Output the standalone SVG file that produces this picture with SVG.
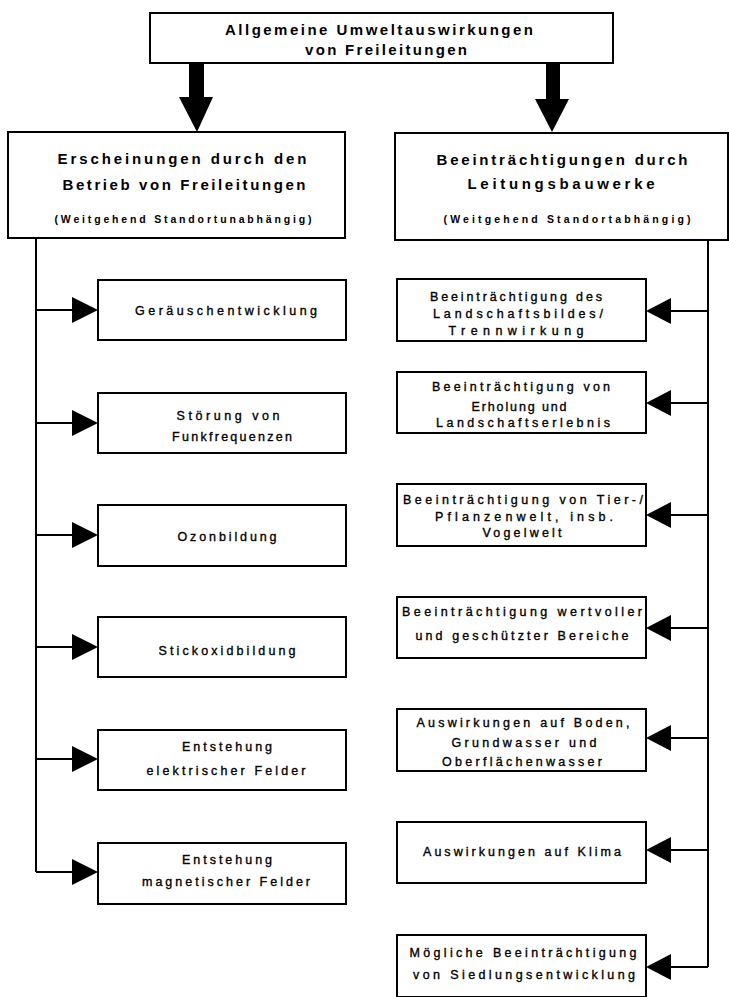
<svg xmlns="http://www.w3.org/2000/svg" width="729" height="997" viewBox="0 0 729 997">
<style>
.box{fill:#fff;stroke:#000;stroke-width:2}
.ln{fill:none;stroke:#000;stroke-width:2}
.hd{font-family:"Liberation Sans",Arial,sans-serif;font-weight:bold;font-size:15px;fill:#000;text-anchor:middle}
.sub{font-family:"Liberation Sans",Arial,sans-serif;font-weight:bold;font-size:10.5px;fill:#000;text-anchor:middle}
.tx{font-family:"Liberation Sans",Arial,sans-serif;font-size:12.5px;fill:#000;stroke:#000;stroke-width:0.35;text-anchor:middle}
</style>
<rect width="729" height="997" fill="#fff"/>
<g id="top">
<rect class="box" x="150" y="13" width="463" height="50"/>
<text class="hd" x="379" y="35" textLength="308" lengthAdjust="spacing">Allgemeine Umweltauswirkungen</text>
<text class="hd" x="386" y="55" textLength="162" lengthAdjust="spacing">von Freileitungen</text>
</g>
<g id="left-head">
<rect class="box" x="8" y="132" width="337" height="106"/>
<text class="hd" x="182" y="164" textLength="249" lengthAdjust="spacing">Erscheinungen durch den</text>
<text class="hd" x="184" y="190" textLength="243" lengthAdjust="spacing">Betrieb von Freileitungen</text>
<text class="sub" x="183" y="223" textLength="257" lengthAdjust="spacing">(Weitgehend Standortunabhängig)</text>
</g>
<g id="right-head">
<rect class="box" x="395" y="133" width="333" height="107"/>
<text class="hd" x="562" y="165" textLength="251" lengthAdjust="spacing">Beeinträchtigungen durch</text>
<text class="hd" x="561" y="189" textLength="187" lengthAdjust="spacing">Leitungsbauwerke</text>
<text class="sub" x="567" y="223" textLength="247" lengthAdjust="spacing">(Weitgehend Standortabhängig)</text>
</g>
<g id="connectors">
<path d="M189,63 H204 V97 H213 L197,132 L179,97 H189 Z" fill="#000"/>
<path d="M546,63 H560 V99 H569 L552,132 L535,99 H546 Z" fill="#000"/>
<path class="ln" d="M36,238 V872"/>
<path class="ln" d="M36,310 H74 M36,423 H74 M36,535 H74 M36,647 H74 M36,759 H74 M36,872 H74"/>
<g fill="#000">
<polygon points="72,297 98,310 72,323"/>
<polygon points="72,410 98,423 72,436"/>
<polygon points="72,522 98,535 72,548"/>
<polygon points="72,634 98,647 72,660"/>
<polygon points="72,746 98,759 72,772"/>
<polygon points="72,859 98,872 72,885"/>
</g>
<path class="ln" d="M708,240 V967"/>
<path class="ln" d="M708,311 H668 M708,403 H668 M708,515 H668 M708,628 H668 M708,738 H668 M708,850 H668 M708,967 H668"/>
<g fill="#000">
<polygon points="671,298 646,311 671,324"/>
<polygon points="671,390 646,403 671,416"/>
<polygon points="671,502 646,515 671,528"/>
<polygon points="671,615 646,628 671,641"/>
<polygon points="671,725 646,738 671,751"/>
<polygon points="671,837 646,850 671,863"/>
<polygon points="671,954 646,967 671,980"/>
</g>
</g>
<g id="l1"><rect class="box" x="98" y="280" width="248" height="60"/>
<text class="tx" x="226" y="315" textLength="182" lengthAdjust="spacing">Geräuschentwicklung</text></g>
<g id="l2"><rect class="box" x="98" y="393" width="248" height="60"/>
<text class="tx" x="228" y="420" textLength="103" lengthAdjust="spacing">Störung von</text>
<text class="tx" x="232" y="441" textLength="120" lengthAdjust="spacing">Funkfrequenzen</text></g>
<g id="l3"><rect class="box" x="98" y="505" width="248" height="61"/>
<text class="tx" x="227" y="541" textLength="99" lengthAdjust="spacing">Ozonbildung</text></g>
<g id="l4"><rect class="box" x="98" y="617" width="248" height="60"/>
<text class="tx" x="227" y="655" textLength="137" lengthAdjust="spacing">Stickoxidbildung</text></g>
<g id="l5"><rect class="box" x="98" y="730" width="248" height="60"/>
<text class="tx" x="227" y="751" textLength="90" lengthAdjust="spacing">Entstehung</text>
<text class="tx" x="226" y="775" textLength="159" lengthAdjust="spacing">elektrischer Felder</text></g>
<g id="l6"><rect class="box" x="98" y="843" width="248" height="61"/>
<text class="tx" x="227" y="864" textLength="90" lengthAdjust="spacing">Entstehung</text>
<text class="tx" x="226" y="886" textLength="168" lengthAdjust="spacing">magnetischer Felder</text></g>
<g id="r1"><rect class="box" x="397" y="279" width="249" height="62"/>
<text class="tx" x="516" y="301" textLength="172" lengthAdjust="spacing">Beeinträchtigung des</text>
<text class="tx" x="518" y="318" textLength="170" lengthAdjust="spacing">Landschaftsbildes/</text>
<text class="tx" x="516" y="335" textLength="135" lengthAdjust="spacing">Trennwirkung</text></g>
<g id="r2"><rect class="box" x="397" y="372" width="249" height="61"/>
<text class="tx" x="521" y="391" textLength="178" lengthAdjust="spacing">Beeinträchtigung von</text>
<text class="tx" x="519" y="411" textLength="95" lengthAdjust="spacing">Erholung und</text>
<text class="tx" x="523" y="427" textLength="174" lengthAdjust="spacing">Landschaftserlebnis</text></g>
<g id="r3"><rect class="box" x="397" y="484" width="249" height="62"/>
<text class="tx" x="523" y="504" textLength="240" lengthAdjust="spacing">Beeinträchtigung von Tier-/</text>
<text class="tx" x="524" y="521" textLength="178" lengthAdjust="spacing">Pflanzenwelt, insb.</text>
<text class="tx" x="522" y="537" textLength="79" lengthAdjust="spacing">Vogelwelt</text></g>
<g id="r4"><rect class="box" x="397" y="597" width="249" height="61"/>
<text class="tx" x="522" y="616" textLength="240" lengthAdjust="spacing">Beeinträchtigung wertvoller</text>
<text class="tx" x="522" y="640" textLength="213" lengthAdjust="spacing">und geschützter Bereiche</text></g>
<g id="r5"><rect class="box" x="397" y="709" width="249" height="62"/>
<text class="tx" x="523" y="727" textLength="213" lengthAdjust="spacing">Auswirkungen auf Boden,</text>
<text class="tx" x="524" y="747" textLength="145" lengthAdjust="spacing">Grundwasser und</text>
<text class="tx" x="522" y="766" textLength="160" lengthAdjust="spacing">Oberflächenwasser</text></g>
<g id="r6"><rect class="box" x="397" y="822" width="249" height="61"/>
<text class="tx" x="522" y="856" textLength="198" lengthAdjust="spacing">Auswirkungen auf Klima</text></g>
<g id="r7"><rect class="box" x="397" y="935" width="249" height="62"/>
<text class="tx" x="523" y="957" textLength="227" lengthAdjust="spacing">Mögliche Beeinträchtigung</text>
<text class="tx" x="524" y="979" textLength="222" lengthAdjust="spacing">von Siedlungsentwicklung</text></g>
</svg>
